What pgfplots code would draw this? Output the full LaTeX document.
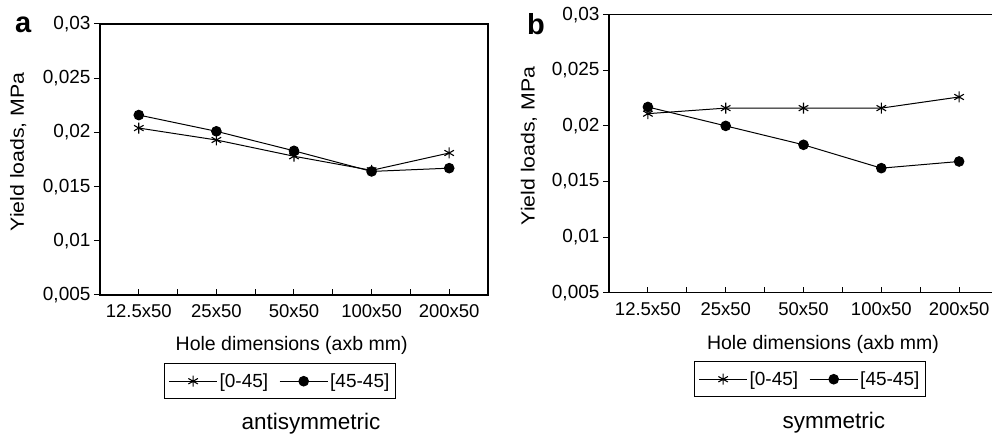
\documentclass[border=0pt]{standalone}
\usepackage{pgfplots}
\pgfplotsset{compat=1.18}
\usepackage{graphicx}
\usepackage{fontspec}
\setmainfont{Liberation Sans}
\newcommand{\ftick}{\fontsize{18.5pt}{21pt}\selectfont}
\newcommand{\fytick}{\fontsize{19pt}{21pt}\selectfont}
\newcommand{\fxlab}{\fontsize{19.5pt}{22pt}\selectfont}
\newcommand{\fylab}{\fontsize{19pt}{22pt}\selectfont}
\newcommand{\fleg}{\fontsize{19pt}{22pt}\selectfont}
\newcommand{\ftitle}{\fontsize{22.5pt}{25pt}\selectfont}
\newcommand{\fpanel}{\fontsize{29pt}{32pt}\selectfont\bfseries}
\pgfplotsset{
  panel/.style={
    scale only axis,
    anchor=south west,
    xmin=-0.5, xmax=4.5,
    ymin=0.005, ymax=0.03,
    scaled y ticks=false,
    xtick={0,1,2,3,4},
    xticklabels={12.5x50,25x50,50x50,100x50,200x50},
    minor xtick={0.5,1.5,2.5,3.5},
    ytick={0.005,0.01,0.015,0.02,0.025,0.03},
    yticklabels={{0,005},{0,01},{0,015},{0,02},{0,025},{0,03}},
    tick pos=left,
    xtick align=inside,
    ytick align=outside,
    major tick length=6pt,
    minor tick length=6pt,
    every tick/.style={black, line width=1pt},
    axis line style={black, line width=1.5pt},
    xticklabel style={font=\ftick, yshift=-6pt},
    yticklabel style={font=\fytick},
    xlabel={Hole dimensions (axb mm)},
    ylabel={\scalebox{1.12}[1]{Yield loads, MPa}},
    legend columns=2,
    legend image code/.code={\draw[mark repeat=2,mark phase=2,#1] plot coordinates {(0pt,0pt) (24pt,0pt) (48pt,0pt)};},
    legend style={draw=black, line width=1.2pt, font=\fleg, inner xsep=4pt, inner ysep=8pt,
      /tikz/every even column/.append style={column sep=9pt}},
    clip=false,
  },
  s045/.style={black, line width=1pt, mark=asterisk, mark size=5.5pt, mark options={line width=1.1pt}},
  s4545/.style={black, line width=1pt, mark=*, mark size=4.8pt, mark options={fill=black}},
}
\begin{document}
\begin{tikzpicture}
\path[use as bounding box] (0pt,0pt) rectangle (992pt,441pt);
\clip (0pt,0pt) rectangle (992pt,441pt);
% panel a
\begin{axis}[panel, at={(100pt,146pt)}, width=388pt, height=271pt,
  xlabel style={font=\fxlab, at={(axis description cs:0.494,-0.203)}, anchor=base},
  ylabel style={font=\fylab, at={(axis description cs:-0.211,0.528)}, anchor=center},
  legend style={at={(axis description cs:0.4639,-0.2509)}, anchor=north}]
\addplot[s045] coordinates {(0,0.0204) (1,0.0193) (2,0.0178) (3,0.0165) (4,0.0181)};
\addlegendentry{[0-45]}
\addplot[s4545] coordinates {(0,0.0216) (1,0.0201) (2,0.0183) (3,0.0164) (4,0.0167)};
\addlegendentry{[45-45]}
\node[font=\ftitle, anchor=base] at (axis description cs:0.5438,-0.4945) {antisymmetric};
\node[font=\fpanel, anchor=base west, inner sep=0pt] at (axis description cs:-0.219,0.967) {a};
\end{axis}
% panel b
\begin{axis}[panel, at={(609pt,148.3pt)}, width=389pt, height=278pt,
  xlabel style={font=\fxlab, at={(axis description cs:0.550,-0.206)}, anchor=base},
  ylabel style={font=\fylab, at={(axis description cs:-0.206,0.528)}, anchor=center},
  legend style={at={(axis description cs:0.5167,-0.2457)}, anchor=north}]
\addplot[s045] coordinates {(0,0.0211) (1,0.0216) (2,0.0216) (3,0.0216) (4,0.0226)};
\addlegendentry{[0-45]}
\addplot[s4545] coordinates {(0,0.0217) (1,0.0200) (2,0.0183) (3,0.0162) (4,0.0168)};
\addlegendentry{[45-45]}
\node[font=\ftitle, anchor=base] at (axis description cs:0.578,-0.490) {symmetric};
\node[font=\fpanel, anchor=base west, inner sep=0pt] at (axis description cs:-0.211,0.927) {b};
\end{axis}
\end{tikzpicture}
\end{document}
